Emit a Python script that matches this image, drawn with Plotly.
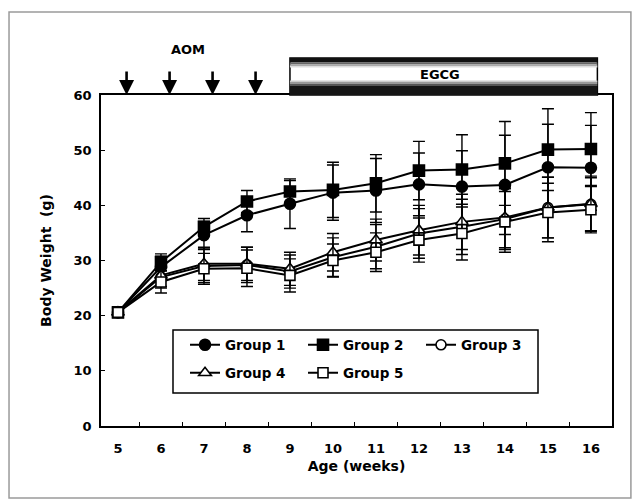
import plotly.graph_objects as go

weeks = [5, 6, 7, 8, 9, 10, 11, 12, 13, 14, 15, 16]

g1 = [20.6, 28.8, 34.6, 38.2, 40.3, 42.3, 42.7, 43.8, 43.4, 43.7, 46.9, 46.8]
g2 = [20.6, 29.7, 36.1, 40.7, 42.5, 42.8, 44.0, 46.3, 46.5, 47.6, 50.1, 50.2]
g3 = [20.6, 27.0, 29.0, 29.2, 28.0, 30.6, 32.5, 34.9, 36.1, 37.5, 39.6, 40.2]
g4 = [20.6, 27.3, 29.4, 29.4, 28.5, 31.5, 33.7, 35.5, 37.0, 37.8, 39.6, 40.3]
g5 = [20.6, 26.1, 28.5, 28.6, 27.3, 30.0, 31.5, 33.7, 34.9, 37.0, 38.7, 39.2]

g1_sd = [0.8, 2.0, 2.5, 3.0, 4.5, 5.0, 5.8, 5.7, 6.5, 9.0, 7.8, 7.7]
g2_sd = [0.8, 1.5, 1.5, 2.0, 2.0, 5.0, 5.2, 5.3, 6.3, 7.6, 7.4, 6.6]
g3_sd = [0.8, 2.0, 3.0, 3.2, 3.0, 3.5, 4.0, 4.5, 5.0, 5.5, 5.5, 4.8]
g4_sd = [0.8, 2.0, 3.0, 3.0, 3.0, 3.4, 3.8, 4.5, 5.0, 5.5, 5.5, 5.0]
g5_sd = [0.8, 2.0, 2.8, 3.3, 3.0, 3.0, 3.5, 4.0, 4.8, 5.5, 5.3, 4.2]

group_names = ["Group 1", "Group 2", "Group 3", "Group 4", "Group 5"]
y_ticks = [0, 10, 20, 30, 40, 50, 60]
aom_weeks = [5.2, 6.2, 7.2, 8.2]
egcg_start, egcg_end = 9.0, 16.15

FONT = "DejaVu Sans"

series = [
    (g1, g1_sd, "circle", "black", 11, "legend"),
    (g2, g2_sd, "square", "black", 11, "legend"),
    (g3, g3_sd, "circle", "white", 10, "legend"),
    (g4, g4_sd, "triangle-up", "white", 11, "legend2"),
    (g5, g5_sd, "square", "white", 10, "legend2"),
]

fig = go.Figure()
for name, (vals, sd, sym, fill, size, leg) in zip(group_names, series):
    fig.add_trace(go.Scatter(
        x=weeks, y=vals, name=name, mode="lines+markers", legend=leg,
        line=dict(color="black", width=2),
        marker=dict(symbol=sym, size=size, color=fill, line=dict(color="black", width=1.6)),
        error_y=dict(type="data", array=sd, visible=True, color="black", thickness=1.4, width=6),
    ))

shapes = []
# outer figure border
shapes.append(dict(type="rect", xref="paper", yref="paper", x0=-0.18, x1=1.037, y0=-0.2175, y1=1.2508,
                   line=dict(color="#9a9a9a", width=1.5), fillcolor="rgba(0,0,0,0)", layer="below"))
# EGCG bar
shapes.append(dict(type="rect", xref="x", yref="paper", x0=egcg_start, x1=egcg_end, y0=1.0, y1=1.1118,
                   line=dict(color="black", width=1.5), fillcolor="white"))
bands = [(1.0982, 1.1118, "#111111"), (1.0921, 1.0982, "#666666"), (1.0876, 1.0921, "#aaaaaa"),
         (1.0830, 1.0876, "#dddddd"),
         (1.0393, 1.0440, "#cccccc"), (1.0332, 1.0393, "#999999"), (1.0272, 1.0332, "#555555"),
         (1.0, 1.0272, "#151515")]
for y0, y1, c in bands:
    shapes.append(dict(type="rect", xref="x", yref="paper", x0=egcg_start, x1=egcg_end, y0=y0, y1=y1,
                       line=dict(width=0), fillcolor=c))
# legend frame
shapes.append(dict(type="rect", xref="paper", yref="paper", x0=0.1409, x1=0.8552, y0=0.0997, y1=0.290,
                   line=dict(color="black", width=1.5), fillcolor="white", layer="below"))

annotations = [
    dict(text="AOM", xref="x", yref="paper", x=6.63, y=1.136, showarrow=False,
         xanchor="center", yanchor="middle",
         font=dict(family=FONT, size=13, color="black", weight="bold")),
    dict(text="EGCG", xref="x", yref="paper", x=12.5, y=1.0634, showarrow=False,
         xanchor="center", yanchor="middle",
         font=dict(family=FONT, size=13, color="black", weight="bold")),
]
for xa in aom_weeks:
    annotations.append(dict(text="", x=xa, y=60, xref="x", yref="y", showarrow=True,
                            ax=0, ay=-25, arrowhead=2, arrowsize=1.15, arrowwidth=2.6, arrowcolor="black"))

tickfont = dict(family=FONT, size=13, color="black", weight="bold")
titlefont = dict(family=FONT, size=14, color="black", weight="bold")
legfont = dict(family=FONT, size=13.5, color="black", weight="bold")

# the page body adds an 8px offset; margins compensate so the plot area lands at 101..612 x 95..426
fig.update_layout(
    width=640, height=503,
    margin=dict(l=93, r=36, t=87, b=85, autoexpand=False),
    paper_bgcolor="white", plot_bgcolor="white",
    shapes=shapes, annotations=annotations,
    legend=dict(orientation="h", x=0.1644, y=0.2447, xanchor="left", yanchor="middle",
                entrywidth=73, entrywidthmode="pixels", bgcolor="rgba(0,0,0,0)", borderwidth=0,
                font=legfont, traceorder="normal"),
    legend2=dict(orientation="h", x=0.1644, y=0.1601, xanchor="left", yanchor="middle",
                 entrywidth=73, entrywidthmode="pixels", bgcolor="rgba(0,0,0,0)", borderwidth=0,
                 font=legfont, traceorder="normal"),
    xaxis=dict(range=[4.605, 16.49], tickvals=weeks, ticktext=[str(w) for w in weeks],
               ticks="", showgrid=False, zeroline=False, showline=True, mirror=True,
               linecolor="black", linewidth=1.5, tickfont=tickfont, ticklabelstandoff=10,
               minor=dict(tickvals=[w + 0.5 for w in weeks[:-1]], ticks="inside", ticklen=4,
                          tickcolor="black", tickwidth=1.3, showgrid=False),
               title=dict(text="Age (weeks)", font=titlefont, standoff=6)),
    yaxis=dict(range=[0, 60], tickvals=y_ticks, ticks="inside", ticklen=4, tickcolor="black",
               tickwidth=1.3, showgrid=False, zeroline=False, showline=True, mirror=True,
               linecolor="black", linewidth=1.5, tickfont=tickfont, ticklabelstandoff=5,
               title=dict(text="Body Weight  (g)", font=titlefont, standoff=19)),
)

fig.write_html("out.html")
